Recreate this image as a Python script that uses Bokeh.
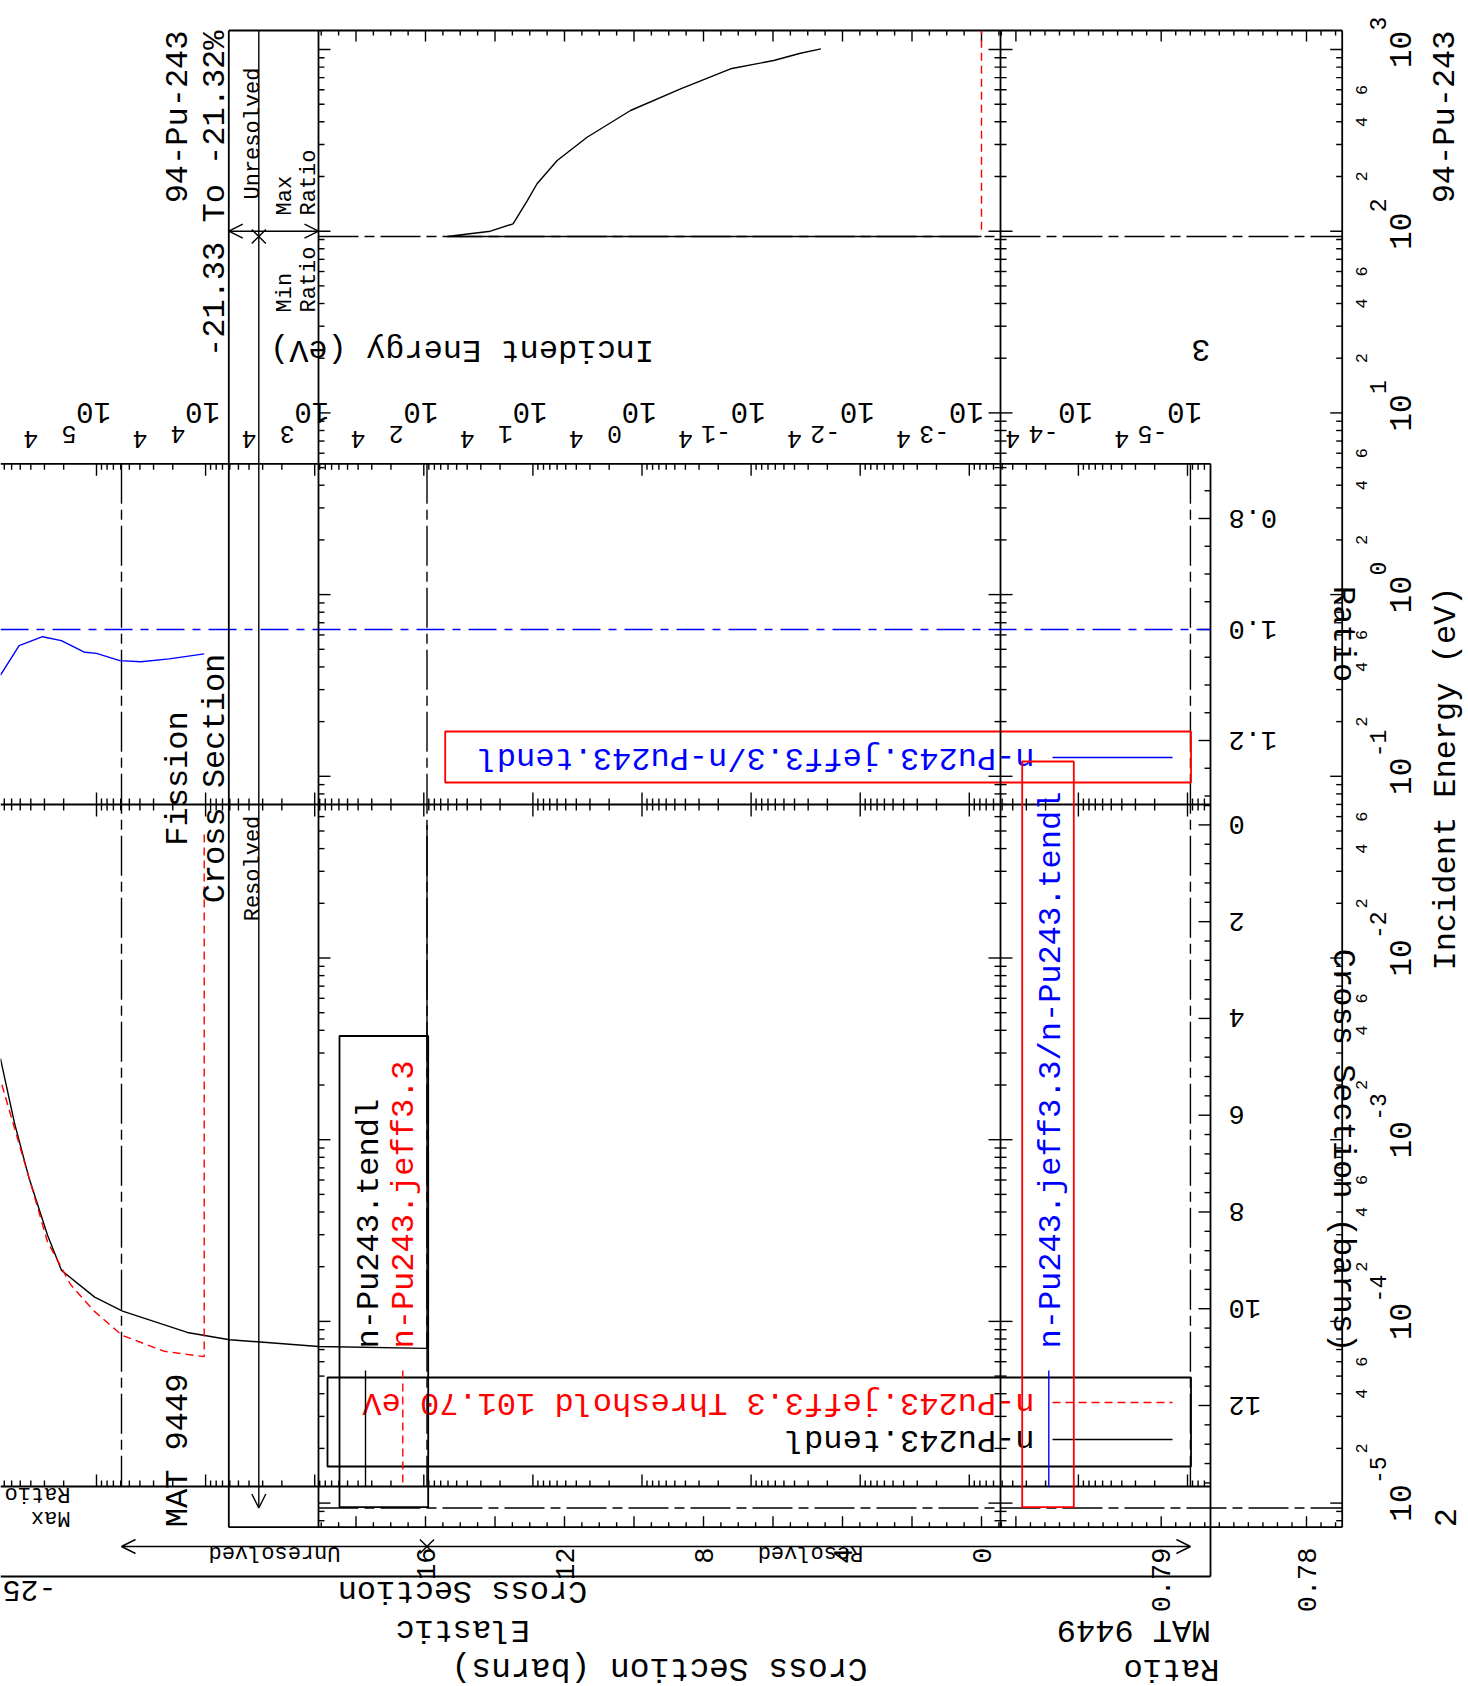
import math
from bokeh.plotting import figure
from bokeh.models import Range1d, LogScale, Arrow, OpenHead
from bokeh.core.properties import value
from bokeh.embed import file_html
from bokeh.resources import INLINE

# ---------------- data ----------------
# Page "2" (drawn turned 90 deg counter-clockwise): 94-Pu-243 fission cross section
fis_tendl_energy = [93.5, 93.5, 100.0, 109.8, 147.5, 182.4, 244.9, 328.8, 461.6, 607.9, 783.2, 869.7, 954.0, 1007.7]
fis_tendl_xs = [0.0, 15.38, 14.13, 13.48, 13.07, 12.79, 12.21, 11.35, 10.10, 8.66, 7.22, 5.98, 5.21, 4.62]
fis_jeff_energy = [101.7, 1270.0]
fis_jeff_xs = [0.0, 0.0]

# Page "3" (drawn upside down): 94-Pu-243 elastic cross section and ratio
el_tendl_energy = [93.5, 93.5, 923.0, 6040.0, 14700.0, 57700.0, 104000.0, 209000.0, 281000.0, 420000.0, 565000.0, 759000.0]
el_tendl_xs = [0.0, 10.82, 10.78, 10.64, 10.49, 10.05, 9.76, 9.21, 8.48, 7.26, 6.16, 4.83]
el_jeff_energy = [10300.0, 10300.0, 23900.0, 58100.0, 105000.0, 173000.0, 282000.0, 343000.0, 511000.0, 759000.0]
el_jeff_xs = [0.2, 10.99, 10.88, 10.55, 10.05, 9.50, 8.61, 7.94, 6.60, 5.27]
el_ratio_energy = [10300.0, 21600.0, 39200.0, 61100.0, 100000.0, 128000.0, 210000.0, 312000.0, 512000.0, 759000.0]
el_ratio = [1.044, 1.053, 1.058, 1.056, 1.043, 1.041, 1.020, 1.013, 1.029, 1.082]

# resolved / unresolved boundaries (eV)
e_low = 9.4e-6
e_res = 93.5
e_unres = 5.9e4
e_ratio_mark = 100.0

# tick labels
decades_fis = [-5, -4, -3, -2, -1, 0, 1, 2, 3]
minor_fis = [2, 4, 6]
decades_el = [-5, -4, -3, -2, -1, 0, 1, 2, 3, 4, 5]
minor_el = [4]
xs_labels_fis = [0, 4, 8, 12, 16]
ratio_labels_fis = [0.78, 0.79]
xs_labels_el = [0, 2, 4, 6, 8, 10, 12]
ratio_labels_el = [0.8, 1.0, 1.2]

leg_tendl = "n-Pu243.tendl"
leg_jeff = "n-Pu243.jeff3.3"
leg_jeff_thr = "n-Pu243.jeff3.3 Threshold 101.70 eV"
leg_ratio = "n-Pu243.jeff3.3/n-Pu243.tendl"

# ---------------- layout (reference pixel coordinates) ----------------
W, H = 1468, 1686
PX0, PX1 = 0.0, 1468.0
PY0, PY1 = 0.0, 1686.0

# page 2 frame (turned)
A_OUT, A_ARW, A_PAN, A_DIV, A_END = 228.3, 258.3, 318.0, 1000.0, 1341.7
A_TOP, A_BOT = 30.0, 1526.7
# page 3 frame (upside down)
B_TOP, B_DIV, B_STR, B_ARW, B_END = 463.3, 804.0, 1486.0, 1546.0, 1576.0
B_RIGHT = 1210.0
B_LEFT = 0.0

# axis calibrations: (value0, pixel0, value1, pixel1)
CAL_EA = (1e2, 230.7, 1e3, 49.0)
CAL_XA = (0.0, 981.0, 16.0, 425.0)
CAL_RA = (0.79, 1160.7, 0.78, 1306.0)
CAL_EB = (1e2, 423.3, 1e5, 96.0)
CAL_XB = (0.0, 824.4, 12.0, 1405.0)
CAL_RB = (1.0, 629.0, 1.2, 740.0)
DEC_A = (CAL_EA[1] - CAL_EA[3])
DEC_B = (CAL_EB[1] - CAL_EB[3]) / 3.0


def val_at(cal, px, log=False):
    v0, p0, v1, p1 = cal
    if log:
        v0, v1 = math.log10(v0), math.log10(v1)
    b = (p1 - p0) / (v1 - v0)
    a = p0 - b * v0
    v = (px - a) / b
    return 10 ** v if log else v


def make_range(cal, q_start, q_end, log=False):
    return Range1d(start=val_at(cal, q_start, log), end=val_at(cal, q_end, log))


p = figure(width=W, height=H, x_range=Range1d(PX0, PX1), y_range=Range1d(PY1, PY0),
           output_backend="svg", toolbar_location=None, x_axis_type=None, y_axis_type=None,
           min_border=0)
p.outline_line_color = None
p.background_fill_color = "white"
p.border_fill_color = "white"
p.grid.visible = False

p.extra_x_ranges = {"XA": make_range(CAL_XA, PX0, PX1),
                    "RA": make_range(CAL_RA, PX0, PX1),
                    "EB": make_range(CAL_EB, PX0, PX1, log=True)}
p.extra_y_ranges = {"EA": make_range(CAL_EA, PY1, PY0, log=True),
                    "XB": make_range(CAL_XB, PY1, PY0),
                    "RB": make_range(CAL_RB, PY1, PY0)}
p.extra_x_scales = {"EB": LogScale()}
p.extra_y_scales = {"EA": LogScale()}

FONT = value("Liberation Mono")
BLACK, RED, BLUE = "black", "#ff0000", "#0000ff"
DASHDOT = "40 6 10 6"
REDDASH = "8 5"
BLUEDASHDOT = "28 8 8 8"
FW = 1.8   # frame width
TW = 1.4   # tick width
LW = 1.4   # data width


def txt(x, y, s, size, angle, align="left", baseline="alphabetic", color=BLACK, **kw):
    xs = x if isinstance(x, list) else [x]
    ys = y if isinstance(y, list) else [y]
    ss = s if isinstance(s, list) else [s]
    n = max(len(xs), len(ys), len(ss))
    xs = xs * n if len(xs) == 1 else xs
    ys = ys * n if len(ys) == 1 else ys
    ss = ss * n if len(ss) == 1 else ss
    p.text(x=xs, y=ys, text=ss, angle=angle, text_font=FONT, text_font_size=f"{size}px",
           text_align=align, text_baseline=baseline, text_color=color, **kw)


def segs(x0, y0, x1, y1, width=FW, color=BLACK, dash="solid", **kw):
    p.segment(x0=x0, y0=y0, x1=x1, y1=y1, line_width=width, line_color=color, line_dash=dash, **kw)


def log_ticks(e_min, e_max):
    out = []
    for n in range(-8, 9):
        for m in range(1, 10):
            e = m * 10.0 ** n
            if e_min <= e <= e_max:
                out.append((e, m == 1))
    return out


def lin_ticks(v_min, v_max, step, major_every):
    k0 = math.ceil(v_min / step - 1e-9)
    k1 = math.floor(v_max / step + 1e-9)
    out = []
    for k in range(k0, k1 + 1):
        v = k * step
        r = v / major_every
        out.append((v, abs(r - round(r)) < 1e-6))
    return out


UP = math.pi / 2
DOWN = -math.pi / 2
FLIP = math.pi

# =============== PAGE 3 (upside down, elastic) ===============
# frame
segs([B_LEFT] * 4, [B_TOP, B_DIV, B_STR, B_END], [B_RIGHT] * 4, [B_TOP, B_DIV, B_STR, B_END])
segs([B_RIGHT], [B_TOP], [B_RIGHT], [B_END])

# energy ticks
eb_min = val_at(CAL_EB, B_RIGHT, True)
eb_max = val_at(CAL_EB, B_LEFT, True)
tx, ty0, ty1 = [], [], []
for e, major in log_ticks(eb_min, eb_max):
    L = 12 if major else 6
    tx += [e, e, e]
    ty0 += [B_TOP, B_DIV - L, B_STR - L]
    ty1 += [B_TOP + L, B_DIV + L, B_STR]
segs(tx, ty0, tx, ty1, width=TW, x_range_name="EB")

# cross-section and ratio ticks on right frame
yv, yx0 = [], []
for v, major in lin_ticks(val_at(CAL_XB, B_DIV), val_at(CAL_XB, B_STR), 0.4, 2.0):
    yv.append(v)
    yx0.append(B_RIGHT - (12 if major else 6))
segs(yx0, yv, [B_RIGHT] * len(yv), yv, width=TW, y_range_name="XB")
rv, rx0 = [], []
for v, major in lin_ticks(val_at(CAL_RB, B_TOP), val_at(CAL_RB, B_DIV), 0.05, 0.2):
    rv.append(v)
    rx0.append(B_RIGHT - (12 if major else 6))
segs(rx0, rv, [B_RIGHT] * len(rv), rv, width=TW, y_range_name="RB")

# boundaries
bx = [e_unres, e_res, e_low]
segs(bx, [B_TOP] * 3, bx, [B_STR] * 3, width=TW, dash=DASHDOT, x_range_name="EB")
segs([B_LEFT], [1.0], [B_RIGHT], [1.0], width=TW, color=BLUE, dash=BLUEDASHDOT, y_range_name="RB")

# data
p.line(el_tendl_energy, el_tendl_xs, line_color=BLACK, line_width=LW, x_range_name="EB", y_range_name="XB")
p.line(el_jeff_energy, el_jeff_xs, line_color=RED, line_width=LW, line_dash=REDDASH,
       x_range_name="EB", y_range_name="XB")
p.line(el_ratio_energy, el_ratio, line_color=BLUE, line_width=LW, x_range_name="EB", y_range_name="RB")

# strip arrow
p.add_layout(Arrow(start=OpenHead(size=14, line_width=TW), end=OpenHead(size=14, line_width=TW),
                   x_start=e_unres, x_end=e_low, y_start=B_ARW, y_end=B_ARW,
                   line_width=TW, x_range_name="EB"))
p.scatter(x=[e_res], y=[B_ARW], marker="x", size=20, line_width=TW, line_color=BLACK, x_range_name="EB")
txt(274.0, 1552.0, "Unresolved", 22, FLIP, align="center")
txt(810.0, 1552.0, "Resolved", 22, FLIP, align="center")
txt(70.0, 1493.0, "Ratio", 22, FLIP, align="left")
txt(70.0, 1517.0, "Max", 22, FLIP, align="left")

# energy labels
txt([10.0 ** n * 10 ** (3 / DEC_B) for n in decades_el], 412.0, ["10"] * len(decades_el), 29, FLIP,
    align="center", x_range_name="EB")
txt([10.0 ** n * 10 ** (20 / DEC_B) for n in decades_el], 434.0, [str(n) for n in decades_el], 25, FLIP,
    align="left", x_range_name="EB")
mins = [(m, n) for n in decades_el for m in minor_el]
txt([m * 10.0 ** n for m, n in mins], 439.0, [str(m) for m, n in mins], 25, FLIP,
    align="center", x_range_name="EB")
txt(461.5, 349.0, "Incident Energy (eV)", 32, FLIP, align="center")
txt(B_RIGHT, 350.0, "3", 32, FLIP, align="left")

# value labels on the right
txt(1228.0, [float(v) for v in xs_labels_el], [str(v) for v in xs_labels_el], 27, FLIP,
    align="right", y_range_name="XB")
txt(1228.0, ratio_labels_el, ["%.1f" % v for v in ratio_labels_el], 27, FLIP,
    align="right", y_range_name="RB")
txt(1342.0, 633.6, "Ratio", 32, DOWN, align="center")
txt(1342.0, 1150.0, "Cross Section (barns)", 32, DOWN, align="center")

# titles
txt(462.0, 1590.0, "Cross Section", 32, FLIP, align="center")
txt(462.0, 1629.0, "Elastic", 32, FLIP, align="center")
txt(B_RIGHT, 1629.0, "MAT 9449", 32, FLIP, align="left")
txt(56.0, 1590.0, "-25", 30, FLIP, align="left")

# legends
p.quad(left=[327.0, 444.7], right=[1190.5, 1190.5], top=[1377.0, 731.0], bottom=[1466.0, 782.0],
       fill_color=None, line_color=[BLACK, RED], line_width=FW)
segs([1052.0], [1439.0], [1172.0], [1439.0], width=LW, color=BLACK)
segs([1052.0], [1402.0], [1172.0], [1402.0], width=LW, color=RED, dash=REDDASH)
segs([1052.0], [757.0], [1172.0], [757.0], width=LW, color=BLUE)
txt(1034.0, 1439.0, leg_tendl, 32, FLIP, align="left", baseline="middle", color=BLACK)
txt(1034.0, 1402.0, leg_jeff_thr, 32, FLIP, align="left", baseline="middle", color=RED)
txt(1034.0, 757.0, leg_ratio, 32, FLIP, align="left", baseline="middle", color=BLUE)

# =============== PAGE 2 (turned, fission) ===============
segs([A_OUT, A_OUT], [A_TOP, A_BOT], [A_END, A_END], [A_TOP, A_BOT])
vx = [A_OUT, A_PAN, A_DIV, A_END]
segs(vx, [A_TOP] * 4, vx, [A_BOT] * 4)

# energy ticks
ea_min = val_at(CAL_EA, A_BOT, True)
ea_max = val_at(CAL_EA, A_TOP, True)
ex0, ex1, ey = [], [], []
for e, major in log_ticks(ea_min, ea_max):
    L = 12 if major else 6
    ex0 += [A_PAN, A_DIV - L, A_END - L]
    ex1 += [A_PAN + L, A_DIV + L, A_END]
    ey += [e, e, e]
segs(ex0, ey, ex1, ey, width=TW, y_range_name="EA")

# cross-section and ratio ticks
xv, xy0, xy1 = [], [], []
for v, major in lin_ticks(val_at(CAL_XA, A_DIV), val_at(CAL_XA, A_PAN), 0.5, 2.0):
    L = 11 if major else 5
    xv += [v, v]
    xy0 += [A_TOP, A_BOT - L]
    xy1 += [A_TOP + L, A_BOT]
segs(xv, xy0, xv, xy1, width=TW, x_range_name="XA")
rv2, ry0, ry1 = [], [], []
for v, major in lin_ticks(val_at(CAL_RA, A_END), val_at(CAL_RA, A_DIV), 0.001, 0.01):
    L = 11 if major else 5
    rv2 += [v, v]
    ry0 += [A_TOP, A_BOT - L]
    ry1 += [A_TOP + L, A_BOT]
segs(rv2, ry0, rv2, ry1, width=TW, x_range_name="RA")

# boundaries
segs([A_PAN, A_PAN], [e_res, e_low], [A_END, A_END], [e_res, e_low], width=TW, dash=DASHDOT,
     y_range_name="EA")

# data
p.line(fis_tendl_xs, fis_tendl_energy, line_color=BLACK, line_width=LW, x_range_name="XA", y_range_name="EA")
p.line(fis_jeff_xs, fis_jeff_energy, line_color=RED, line_width=LW, line_dash=REDDASH,
       x_range_name="XA", y_range_name="EA")

# strip arrows
p.add_layout(Arrow(end=OpenHead(size=14, line_width=TW), x_start=A_ARW, x_end=A_ARW,
                   y_start=ea_max, y_end=e_low, line_width=TW, y_range_name="EA"))
p.add_layout(Arrow(start=OpenHead(size=14, line_width=TW), end=OpenHead(size=14, line_width=TW),
                   x_start=A_OUT, x_end=A_PAN, y_start=e_ratio_mark, y_end=e_ratio_mark,
                   line_width=TW, y_range_name="EA"))
p.scatter(x=[A_ARW], y=[e_res], marker="x", size=20, line_width=TW, line_color=BLACK, y_range_name="EA")
txt(253.0, 133.0, "Unresolved", 22, UP, align="center")
txt(253.0, 868.0, "Resolved", 22, UP, align="center")
txt(285.0, 215.0, "Max", 22, UP, align="left")
txt(309.0, 215.0, "Ratio", 22, UP, align="left")
txt(285.0, 312.0, "Min", 22, UP, align="left")
txt(309.0, 312.0, "Ratio", 22, UP, align="left")

# energy labels (right)
txt(1400.0, [10.0 ** n for n in decades_fis], ["10"] * len(decades_fis), 31, UP,
    align="center", y_range_name="EA")
txt(1377.0, [10.0 ** n * 10 ** (19 / DEC_A) for n in decades_fis], [str(n) for n in decades_fis], 23, UP,
    align="left", y_range_name="EA")
minsA = [(m, n) for n in decades_fis[:-1] for m in minor_fis]
txt(1361.0, [m * 10.0 ** n for m, n in minsA], [str(m) for m, n in minsA], 17, UP,
    align="center", y_range_name="EA")
txt(1446.0, 778.0, "Incident Energy (eV)", 32, UP, align="center")
txt(1445.0, A_TOP, "94-Pu-243", 32, UP, align="right")
txt(1445.0, A_BOT, "2", 32, UP, align="left")

# value labels (bottom)
txt([float(v) for v in xs_labels_fis], 1547.0, [str(v) for v in xs_labels_fis], 27, UP,
    align="right", x_range_name="XA")
txt(ratio_labels_fis, 1547.0, ["%.2f" % v for v in ratio_labels_fis], 27, UP,
    align="right", x_range_name="RA")
txt(659.0, 1667.0, "Cross Section (barns)", 33, FLIP, align="center", baseline="middle")
txt(1171.0, 1668.0, "Ratio", 32, FLIP, align="center", baseline="middle")

# titles (left)
txt(178.0, A_TOP, "94-Pu-243", 32, UP, align="right")
txt(215.0, A_TOP, "-21.33 To -21.32%", 32, UP, align="right")
txt(178.0, 778.0, "Fission", 32, UP, align="center")
txt(215.0, 778.0, "Cross Section", 32, UP, align="center")
txt(178.0, A_BOT, "MAT 9449", 32, UP, align="left")

# legends
p.quad(left=[339.0, 1021.7], right=[427.7, 1073.3], top=[1035.5, 761.0], bottom=[1506.7, 1506.7],
       fill_color=None, line_color=[BLACK, RED], line_width=FW)
segs([365.0], [1370.0], [365.0], [1486.0], width=LW, color=BLACK)
segs([402.3], [1370.0], [402.3], [1486.0], width=LW, color=RED, dash=REDDASH)
segs([1048.3], [1370.0], [1048.3], [1486.0], width=LW, color=BLUE)
txt(369.0, 1348.0, leg_tendl, 32, UP, align="left", baseline="middle", color=BLACK)
txt(404.0, 1348.0, leg_jeff, 32, UP, align="left", baseline="middle", color=RED)
txt(1051.0, 1348.0, leg_ratio, 32, UP, align="left", baseline="middle", color=BLUE)

open("out.html", "w").write(file_html(p, INLINE))
